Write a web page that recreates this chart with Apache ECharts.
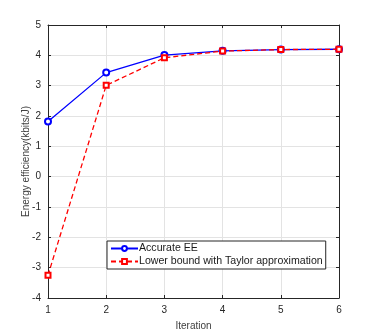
<!DOCTYPE html>
<html><head><meta charset="utf-8">
<script src="https://cdn.jsdelivr.net/npm/echarts@6/dist/echarts.min.js"></script>
<style>html,body{margin:0;padding:0;background:#fff}#c{width:374px;height:336px}</style>
</head><body><div id="c"></div>
<script>
const iterations = [1, 2, 3, 4, 5, 6];
const accurateEE = [1.82, 3.43, 4.01, 4.15, 4.19, 4.20];
const lowerBound = [-3.25, 3.01, 3.92, 4.14, 4.19, 4.20];
const seriesNames = ['Accurate EE', 'Lower bound with Taylor approximation'];
const xTitle = 'Iteration';
const yTitle = 'Energy efficiency(kbits/J)';

const font = 'Liberation Sans, Arial, sans-serif';
const chart = echarts.init(document.getElementById('c'), null, {renderer: 'canvas'});
const axCol = '#262626';
const baseX = {
  type: 'value', min: 1, max: 6, interval: 1,
  axisLine: {show: true, onZero: false, lineStyle: {color: axCol, width: 1}},
  axisTick: {show: true, inside: true, length: 3, lineStyle: {color: axCol}},
  splitLine: {show: false}
};
const baseY = {
  type: 'value', min: -4, max: 5, interval: 1,
  axisLine: {show: true, onZero: false, lineStyle: {color: axCol, width: 1}},
  axisTick: {show: true, inside: true, length: 3, lineStyle: {color: axCol}},
  splitLine: {show: false}
};
chart.setOption({
  animation: false,
  textStyle: {fontFamily: font},
  grid: {left: 48, right: 35, top: 25, bottom: 37, containLabel: false},
  xAxis: [
    Object.assign({}, baseX, {
      position: 'bottom',
      name: xTitle, nameLocation: 'middle', nameGap: 23, nameMoveOverlap: false,
      nameTextStyle: {fontFamily: font, fontSize: 10, color: '#404040'},
      axisLabel: {fontFamily: font, fontSize: 10, color: '#262626', margin: 7},
      splitLine: {show: true, lineStyle: {color: '#e3e3e3', width: 1}}
    }),
    Object.assign({}, baseX, {position: 'top', axisLabel: {show: false}})
  ],
  yAxis: [
    Object.assign({}, baseY, {
      position: 'left',
      name: yTitle, nameLocation: 'middle', nameGap: 17, nameMoveOverlap: false,
      nameTextStyle: {fontFamily: font, fontSize: 10, color: '#404040'},
      axisLabel: {fontFamily: font, fontSize: 10, color: '#262626', margin: 7},
      splitLine: {show: true, lineStyle: {color: '#e3e3e3', width: 1}}
    }),
    Object.assign({}, baseY, {position: 'right', axisLabel: {show: false}})
  ],
  legend: {
    show: true,
    left: 107, top: 241,
    orient: 'vertical',
    backgroundColor: '#fff',
    borderColor: axCol, borderWidth: 1, borderRadius: 0,
    padding: [2, 3, 2, 3],
    itemGap: 2,
    itemWidth: 27, itemHeight: 6,
    textStyle: {fontFamily: font, fontSize: 10.6, color: '#1a1a1a', padding: [0, 0, 0, -4]},
    data: seriesNames
  },
  series: [
    {
      name: seriesNames[0], type: 'line',
      data: iterations.map((x, i) => [x, accurateEE[i]]),
      symbol: 'emptyCircle', symbolSize: 6,
      lineStyle: {color: '#0000ff', width: 1.3},
      itemStyle: {color: '#0000ff', borderWidth: 1.2},
      z: 3
    },
    {
      name: seriesNames[1], type: 'line',
      data: iterations.map((x, i) => [x, lowerBound[i]]),
      symbol: 'emptyRect', symbolSize: 5,
      lineStyle: {color: '#ff0000', width: 1.3, type: [5, 3]},
      itemStyle: {color: '#ff0000', borderWidth: 1.2},
      z: 4
    }
  ]
});
</script></body></html>
